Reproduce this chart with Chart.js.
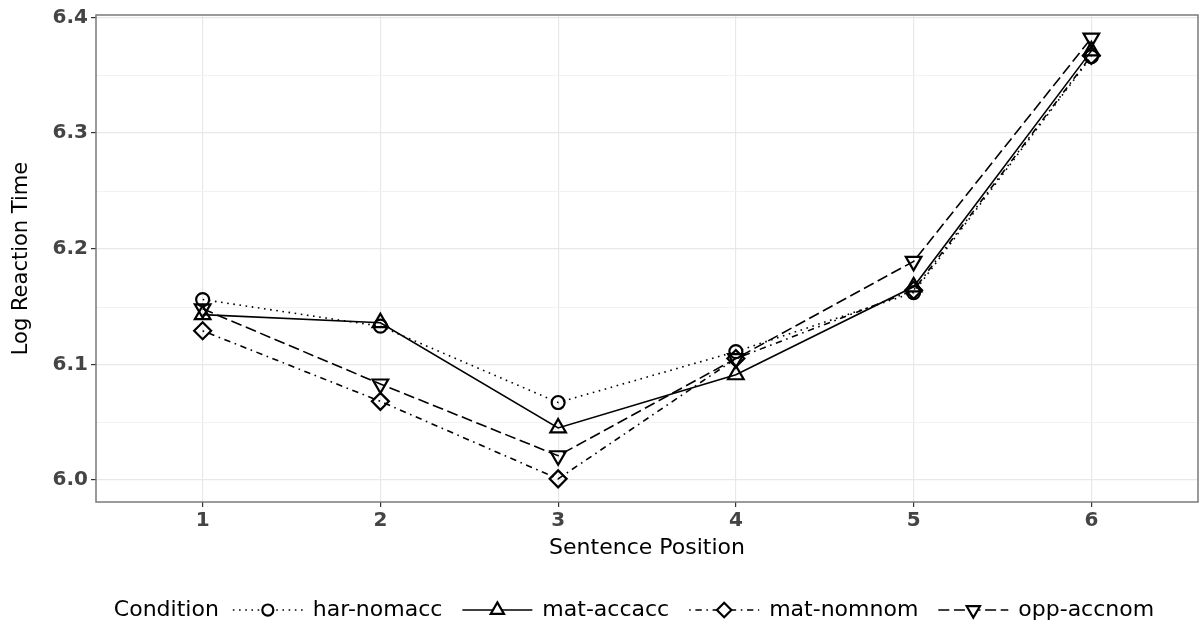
<!DOCTYPE html>
<html>
<head>
<meta charset="utf-8">
<script src="https://cdn.jsdelivr.net/npm/chart.js@4/dist/chart.umd.min.js"></script>
<style>
  html, body { margin: 0; padding: 0; background: #fff; overflow: hidden; }
  #wrap { width: 1200px; height: 628px; position: relative; }
  #rtChart { display: block; }
</style>
</head>
<body>
<div id="wrap"><canvas id="rtChart"></canvas></div>
<script>
// sentence positions and log RT per condition
const positions = [1, 2, 3, 4, 5, 6];
const harNomacc = [6.156, 6.133, 6.067, 6.111, 6.162, 6.366];
const matAccacc = [6.143, 6.136, 6.045, 6.091, 6.167, 6.371];
const matNomnom = [6.129, 6.068, 6.001, 6.105, 6.164, 6.367];
const oppAccnom = [6.148, 6.083, 6.021, 6.105, 6.189, 6.382];
const yTicks = [6.0, 6.1, 6.2, 6.3, 6.4];
const yMinorTicks = [6.05, 6.15, 6.25, 6.35];

const FONT = "'DejaVu Sans', sans-serif";

function toPoints(vals) {
  return positions.map((p, i) => ({ x: p, y: vals[i] }));
}

function makeSet(label, vals, dash, style, radius, rot) {
  return {
    label: label,
    data: toPoints(vals),
    borderColor: "#000",
    borderWidth: 1.6,
    borderDash: dash,
    borderCapStyle: "butt",
    pointStyle: style,
    pointRadius: radius,
    pointRotation: rot || 0,
    pointBorderWidth: 2.2,
    pointBorderColor: "#000",
    pointBackgroundColor: "rgba(0,0,0,0)",
    tension: 0,
    fill: false,
  };
}

const datasets = [
  makeSet("har-nomacc", harNomacc, [1.6, 4.6], "circle", 6.5),
  makeSet("mat-accacc", matAccacc, [], "triangle", 9),
  makeSet("mat-nomnom", matNomnom, [1.6, 4.6, 6.4, 4.6], "rectRot", 8.5),
  makeSet("opp-accnom", oppAccnom, [11, 4.6], "triangle", 9, 180),
];

// minor grid lines + panel border
const panelPlugin = {
  id: "panel",
  beforeDatasetsDraw(chart) {
    const { ctx, chartArea: a, scales } = chart;
    ctx.save();
    ctx.strokeStyle = "#f2f2f2";
    ctx.lineWidth = 1;
    yMinorTicks.forEach((v) => {
      const y = Math.round(scales.y.getPixelForValue(v)) + 0.5;
      ctx.beginPath();
      ctx.moveTo(a.left, y);
      ctx.lineTo(a.right, y);
      ctx.stroke();
    });
    ctx.restore();
  },
  afterDraw(chart) {
    const { ctx, chartArea: a } = chart;
    ctx.save();
    ctx.strokeStyle = "#7a7a7a";
    ctx.lineWidth = 1.5;
    ctx.strokeRect(a.left, a.top, a.right - a.left, a.bottom - a.top);
    ctx.restore();
  },
};

// ggplot-style bottom legend: title + line/marker keys
const legendPlugin = {
  id: "ggLegend",
  afterDraw(chart) {
    const ctx = chart.ctx;
    const cy = 610;
    const keyW = 70;
    const titleGap = 14;
    const labelGap = 10;
    const itemGap = 20;
    ctx.save();
    ctx.font = "22px " + FONT;
    ctx.textBaseline = "middle";
    const title = "Condition";
    const titleW = ctx.measureText(title).width;
    let total = titleW + titleGap;
    chart.data.datasets.forEach((ds) => {
      total += keyW + labelGap + ctx.measureText(ds.label).width + itemGap;
    });
    total -= itemGap;
    let x = 634 - total / 2;
    ctx.fillStyle = "#000";
    ctx.fillText(title, x, cy);
    x += titleW + titleGap;
    chart.data.datasets.forEach((ds) => {
      ctx.strokeStyle = "#000";
      ctx.lineWidth = 1.6;
      ctx.setLineDash(ds.borderDash);
      ctx.beginPath();
      ctx.moveTo(x, cy);
      ctx.lineTo(x + keyW, cy);
      ctx.stroke();
      ctx.setLineDash([]);
      ctx.lineWidth = 2.2;
      ctx.fillStyle = "#fff";
      Chart.helpers.drawPoint(
        ctx,
        {
          pointStyle: ds.pointStyle,
          radius: ds.pointRadius * 0.85,
          rotation: ds.pointRotation,
          borderWidth: 2.2,
        },
        x + keyW / 2,
        cy
      );
      x += keyW + labelGap;
      ctx.fillStyle = "#000";
      ctx.fillText(ds.label, x, cy);
      x += ctx.measureText(ds.label).width + itemGap;
    });
    ctx.restore();
  },
};

Chart.defaults.font.family = FONT;
Chart.defaults.color = "#000";

new Chart(document.getElementById("rtChart"), {
  type: "line",
  data: { datasets: datasets },
  options: {
    responsive: true,
    maintainAspectRatio: false,
    animation: false,
    layout: {
      autoPadding: false,
      padding: { top: 14, right: 2, bottom: 67, left: 0 },
    },
    plugins: {
      legend: { display: false },
      tooltip: { enabled: false },
    },
    scales: {
      x: {
        type: "linear",
        min: 0.4,
        max: 6.6,
        afterBuildTicks: (s) => {
          s.ticks = positions.map((v) => ({ value: v }));
        },
        afterFit: (s) => {
          s.height = 59;
          s.paddingLeft = 0;
          s.paddingRight = 0;
        },
        grid: {
          color: "#e8e8e8",
          lineWidth: 1.2,
          tickColor: "#333",
          tickLength: 5,
        },
        border: { display: false },
        ticks: {
          color: "#444",
          font: { size: 20, weight: "bold" },
          padding: 2,
          callback: (v) => String(v),
        },
        title: {
          display: true,
          text: "Sentence Position",
          color: "#000",
          font: { size: 22 },
          padding: { top: 0, bottom: 0 },
        },
      },
      y: {
        type: "linear",
        min: 5.981,
        max: 6.402,
        afterBuildTicks: (s) => {
          s.ticks = yTicks.map((v) => ({ value: v }));
        },
        afterFit: (s) => {
          s.width = 96;
        },
        grid: {
          color: "#e8e8e8",
          lineWidth: 1.2,
          tickColor: "#333",
          tickLength: 5,
        },
        border: { display: false },
        ticks: {
          color: "#444",
          font: { size: 20, weight: "bold" },
          padding: 3,
          callback: (v) => v.toFixed(1),
        },
        title: {
          display: true,
          text: "Log Reaction Time",
          color: "#000",
          font: { size: 21 },
          padding: { top: 9, bottom: 4 },
        },
      },
    },
  },
  plugins: [panelPlugin, legendPlugin],
});
</script>
</body>
</html>
